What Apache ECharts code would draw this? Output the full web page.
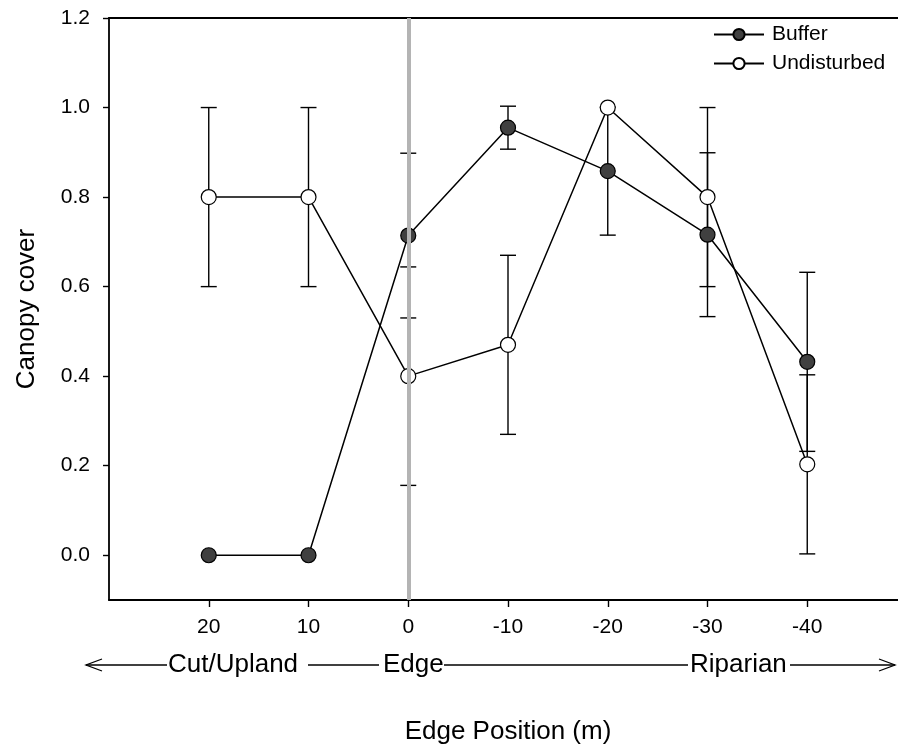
<!DOCTYPE html>
<html>
<head>
<meta charset="utf-8">
<script src="https://cdn.jsdelivr.net/npm/echarts@6/dist/echarts.min.js"></script>
<style>
  html, body { margin: 0; padding: 0; background: #fff; }
  #chart { width: 898px; height: 748px; }
</style>
</head>
<body>
<div id="chart"></div>
<script>
// Edge positions (m), positive = cut/upland side, negative = riparian side
var positions = [20, 10, 0, -10, -20, -30, -40];
var xTicks = [20, 10, 0, -10, -20, -30, -40];
var yTicks = [0, 0.2, 0.4, 0.6, 0.8, 1.0, 1.2];

// Mean canopy cover and error half-widths per treatment
var bufferMean = [0, 0, 0.714, 0.955, 0.858, 0.716, 0.432];
var bufferErr = [null, null, 0.184, 0.048, 0.143, 0.183, 0.2];
var undisturbedMean = [0.8, 0.8, 0.4, 0.47, 1.0, 0.8, 0.203];
var undisturbedErr = [0.2, 0.2, 0.244, 0.2, null, 0.2, 0.2];

var FONT = '"Liberation Sans", Arial, sans-serif';

function pairs(means) {
  return positions.map(function (p, i) { return [p, means[i]]; });
}
function errData(means, errs) {
  var out = [];
  positions.forEach(function (p, i) {
    if (errs[i] != null && errs[i] > 0) out.push([p, means[i] - errs[i], means[i] + errs[i]]);
  });
  return out;
}
function renderErr(params, api) {
  var x = api.value(0);
  var lo = api.coord([x, api.value(1)]);
  var hi = api.coord([x, api.value(2)]);
  var half = 8;
  var style = { stroke: '#000', lineWidth: 1.4, fill: null };
  return {
    type: 'group',
    children: [
      { type: 'line', shape: { x1: lo[0], y1: lo[1], x2: hi[0], y2: hi[1] }, style: style },
      { type: 'line', shape: { x1: lo[0] - half, y1: lo[1], x2: lo[0] + half, y2: lo[1] }, style: style },
      { type: 'line', shape: { x1: hi[0] - half, y1: hi[1], x2: hi[0] + half, y2: hi[1] }, style: style }
    ]
  };
}

var chart = echarts.init(document.getElementById('chart'), null, { renderer: 'canvas' });

var textStyle = { fontFamily: FONT, fontSize: 26, fill: '#000' };
var lineStyleArrow = { stroke: '#000', lineWidth: 1.3, fill: null };

chart.setOption({
  animation: false,
  backgroundColor: '#fff',
  textStyle: { fontFamily: FONT },
  grid: { left: 109, top: 18, width: 798, height: 582, outerBoundsMode: 'none', containLabel: false },
  legend: {
    left: 708, top: 19, orient: 'vertical',
    itemWidth: 50, itemHeight: 14, itemGap: 8,
    textStyle: { fontFamily: FONT, fontSize: 21, color: '#000', padding: [0, 0, 0, 3] },
    data: ['Buffer', 'Undisturbed']
  },
  xAxis: [{
    type: 'value', inverse: true, min: -50, max: 30,
    name: 'Edge Position (m)', nameLocation: 'middle', nameGap: 119,
    nameTextStyle: { fontFamily: FONT, fontSize: 26, color: '#000' },
    splitLine: { show: false },
    axisLine: { show: true, onZero: false, lineStyle: { color: '#000', width: 1.8 } },
    axisTick: { show: true, length: 7, customValues: xTicks, lineStyle: { color: '#000', width: 1.4 } },
    axisLabel: { customValues: xTicks, margin: 17, fontFamily: FONT, fontSize: 21, color: '#000' }
  }, {
    type: 'value', inverse: true, min: -50, max: 30, position: 'top',
    splitLine: { show: false },
    axisLine: { show: true, onZero: false, lineStyle: { color: '#000', width: 1.8 } },
    axisTick: { show: false }, axisLabel: { show: false }
  }],
  yAxis: {
    type: 'value', min: -0.1, max: 1.2,
    name: 'Canopy cover', nameLocation: 'middle', nameGap: 69, nameRotate: 90,
    nameTextStyle: { fontFamily: FONT, fontSize: 26, color: '#000' },
    splitLine: { show: false },
    axisLine: { show: true, onZero: false, lineStyle: { color: '#000', width: 1.8 } },
    axisTick: { show: true, length: 6, customValues: yTicks, lineStyle: { color: '#000', width: 1.4 } },
    axisLabel: {
      customValues: yTicks, margin: 19, fontFamily: FONT, fontSize: 21, color: '#000',
      formatter: function (v) { return v.toFixed(1); }
    }
  },
  series: [
    {
      type: 'custom', name: 'Buffer error', renderItem: renderErr,
      data: errData(bufferMean, bufferErr), z: 2, silent: true
    },
    {
      type: 'custom', name: 'Undisturbed error', renderItem: renderErr,
      data: errData(undisturbedMean, undisturbedErr), z: 2, silent: true
    },
    {
      type: 'line', name: 'Buffer', data: pairs(bufferMean),
      symbol: 'circle', symbolSize: 15, z: 3,
      lineStyle: { color: '#000', width: 1.5 },
      itemStyle: { color: '#404040', borderColor: '#000', borderWidth: 1.2 }
    },
    {
      type: 'line', name: 'Undisturbed', data: pairs(undisturbedMean),
      symbol: 'circle', symbolSize: 15, z: 4,
      lineStyle: { color: '#000', width: 1.5 },
      itemStyle: { color: '#fff', borderColor: '#000', borderWidth: 1.2 }
    },
    {
      // gray reference line at the edge (0 m)
      type: 'line', name: 'edge', data: [], z: 10, silent: true,
      markLine: {
        silent: true, symbol: 'none', label: { show: false },
        lineStyle: { color: '#b4b4b4', width: 4, type: 'solid' },
        data: [{ xAxis: 0 }]
      }
    }
  ],
  graphic: [
    // zone annotation row beneath the axis
    { type: 'polyline', shape: { points: [[102, 659], [86, 665], [102, 671]] }, style: lineStyleArrow },
    { type: 'line', shape: { x1: 86, y1: 665, x2: 167, y2: 665 }, style: lineStyleArrow },
    { type: 'text', x: 168, y: 665, style: Object.assign({ text: 'Cut/Upland', verticalAlign: 'middle' }, textStyle) },
    { type: 'line', shape: { x1: 308, y1: 665, x2: 379, y2: 665 }, style: lineStyleArrow },
    { type: 'text', x: 383, y: 665, style: Object.assign({ text: 'Edge', verticalAlign: 'middle' }, textStyle) },
    { type: 'line', shape: { x1: 444, y1: 665, x2: 688, y2: 665 }, style: lineStyleArrow },
    { type: 'text', x: 690, y: 665, style: Object.assign({ text: 'Riparian', verticalAlign: 'middle' }, textStyle) },
    { type: 'line', shape: { x1: 790, y1: 665, x2: 895, y2: 665 }, style: lineStyleArrow },
    { type: 'polyline', shape: { points: [[879, 659], [895, 665], [879, 671]] }, style: lineStyleArrow }
  ]
});
</script>
</body>
</html>
